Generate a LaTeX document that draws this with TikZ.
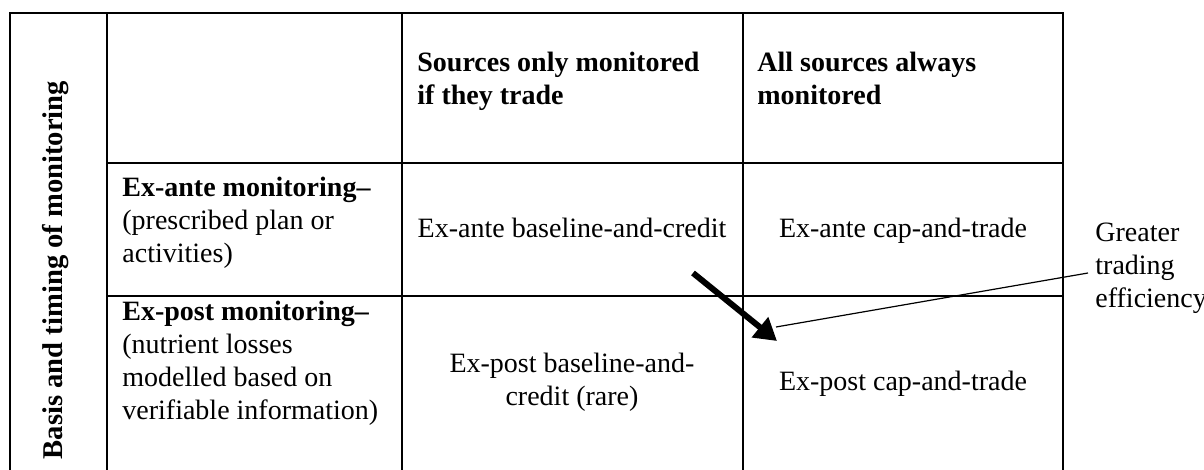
\documentclass[tikz,border=0pt]{standalone}
\usepackage{fontspec}
\setmainfont{Liberation Serif}
\usetikzlibrary{arrows.meta}
\tikzset{
  grid/.style={line width=1pt, line cap=rect},
  txt/.style={inner sep=0pt, font=\fontsize{14}{16.5}\selectfont},
  hdr/.style={txt, font=\fontsize{14}{16.5}\selectfont\bfseries, align=left, anchor=base west},
  rowlab/.style={txt, align=left, anchor=base west},
  cell/.style={txt, align=center, anchor=base},
  bigarrow/.style={line width=3pt, -{Triangle[length=11pt,width=12.5pt]}},
  pointer/.style={line width=0.6pt}
}
\begin{document}
\begin{tikzpicture}[x=0.5pt, y=-0.5pt]
\useasboundingbox (0,0) rectangle (1204,470);

% table frame (the grid continues past the lower edge)
\draw[grid] (10,480) -- (10,13) -- (1063,13) -- (1063,480);
\draw[grid] (107,13) -- (107,480);
\draw[grid] (402,13) -- (402,480);
\draw[grid] (743,13) -- (743,480);
\draw[grid] (107,163) -- (1063,163);
\draw[grid] (107,296) -- (1063,296);

% side label
\node[txt, font=\fontsize{14.3}{16.5}\selectfont\bfseries, rotate=90, anchor=base] (side) at (62,270) {Basis and timing of monitoring};

% column headers (multi-line nodes are placed by the baseline of their last line)
\node[hdr] (colA) at (417,105) {Sources only monitored\\if they trade};
\node[hdr] (colB) at (757,105) {All sources always\\monitored};

% row headers
\node[rowlab] (rowA) at (122,263) {\textbf{Ex-ante monitoring–}\\(prescribed plan or\\activities)};
\node[rowlab] (rowB) at (122,419) {\textbf{Ex-post monitoring–}\\(nutrient losses\\modelled based on\\verifiable information)};

% cells
\node[cell] (aa) at (572,238) {Ex-ante baseline-and-credit};
\node[cell] (ab) at (903,238) {Ex-ante cap-and-trade};
\node[cell] (ba) at (572,405) {Ex-post baseline-and-\\credit (rare)};
\node[cell] (bb) at (903,390) {Ex-post cap-and-trade};

% annotation
\node[rowlab] (note) at (1095,307) {Greater\\trading\\efficiency};

\coordinate (arrStart) at (693,273);
\coordinate (arrTip) at (777,341);
\coordinate (noteFrom) at (1088,273);
\coordinate (noteTo) at (776,327);

\draw[bigarrow] (arrStart) -- (arrTip);
\draw[pointer] (noteFrom) -- (noteTo);
\end{tikzpicture}
\end{document}
